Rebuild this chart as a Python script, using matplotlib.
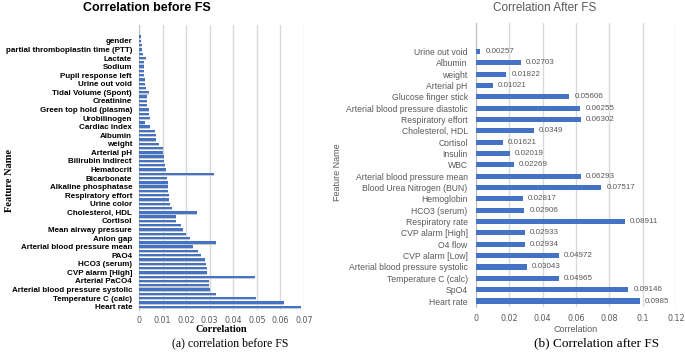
import numpy as np
import matplotlib.pyplot as plt

W, H = 685, 352

# (a) before feature selection: 64 bars, bottom -> top, every other one labelled
before_names = ["Heart rate", "Temperature C (calc)", "Arterial blood pressure systolic",
                "Arterial PaCO4", "CVP alarm [High]", "HCO3 (serum)", "PAO4",
                "Arterial blood pressure mean", "Anion gap", "Mean airway pressure",
                "Cortisol", "Cholesterol, HDL", "Urine color", "Respiratory effort",
                "Alkaline phosphatase", "Bicarbonate", "Hematocrit", "Bilirubin Indirect",
                "Arterial pH", "weight", "Albumin", "Cardiac index", "Urobilinogen",
                "Green top hold (plasma)", "Creatinine", "Tidal Volume (Spont)",
                "Urine out void", "Pupil response left", "Sodium", "Lactate",
                "partial thromboplastin time (PTT)", "gender"]
before_vals = [0.0686, 0.0615, 0.0497, 0.0328, 0.0303, 0.0297, 0.0295, 0.0491,
               0.0290, 0.0288, 0.0286, 0.0280, 0.0264, 0.0250, 0.0229, 0.0327,
               0.0217, 0.0199, 0.0185, 0.0178, 0.0158, 0.0158, 0.0246, 0.0139,
               0.0132, 0.0129, 0.0126, 0.0125, 0.0122, 0.0121, 0.0118, 0.0317,
               0.0116, 0.0110, 0.0108, 0.0107, 0.0101, 0.0100, 0.0084, 0.0074,
               0.0072, 0.0068, 0.0046, 0.0025, 0.0045, 0.0044, 0.0041, 0.0035,
               0.0035, 0.0035, 0.0042, 0.0028, 0.0027, 0.0025, 0.0023, 0.0023,
               0.0023, 0.0021, 0.0031, 0.0018, 0.0011, 0.0011, 0.0010, 0.0007]
before_ticks = [0, 0.01, 0.02, 0.03, 0.04, 0.05, 0.06, 0.07]

# (b) after feature selection, top -> bottom as in the chart
after_names = ["Urine out void", "Albumin", "weight", "Arterial pH", "Glucose finger stick",
               "Arterial blood pressure diastolic", "Respiratory effort", "Cholesterol, HDL",
               "Cortisol", "Insulin", "WBC", "Arterial blood pressure mean",
               "Blood Urea Nitrogen (BUN)", "Hemoglobin", "HCO3 (serum)", "Respiratory rate",
               "CVP alarm [High]", "O4 flow", "CVP alarm [Low]",
               "Arterial blood pressure systolic", "Temperature C (calc)", "SpO4", "Heart rate"]
after_vals = [0.00257, 0.02703, 0.01822, 0.01021, 0.05606, 0.06255, 0.06302, 0.0349,
              0.01621, 0.02019, 0.02269, 0.06293, 0.07517, 0.02817, 0.02906, 0.08911,
              0.02933, 0.02934, 0.04972, 0.03043, 0.04965, 0.09146, 0.0985]
after_ticks = [0, 0.02, 0.04, 0.06, 0.08, 0.1, 0.12]

blue = "#4472c4"
grey_txt = "#595959"


def box(x0, y0, x1, y1):
    return [x0 / W, 1 - y1 / H, (x1 - x0) / W, (y1 - y0) / H]


def ftext(x, y, s, **kw):
    fig.text(x / W, 1 - y / H, s, **kw)


fig = plt.figure(figsize=(W / 100, H / 100), dpi=100)

# ---- left chart
ax1 = fig.add_axes(box(139, 25, 304, 310))
pos = np.arange(len(before_vals))
ax1.barh(pos - 0.25, before_vals, height=0.55, color="#c9c9c9", zorder=2)
ax1.barh(pos, before_vals, height=0.55, color=blue, zorder=3)
ax1.set_ylim(-0.77, 65.7)
ax1.set_yticks(pos[::2])
ax1.set_yticklabels(before_names, fontsize=5.8, fontweight="bold",
                    family="Liberation Sans")
ax1.set_xlim(0, 0.07)
ax1.set_xticks(before_ticks)
ax1.set_xticklabels(["%g" % t for t in before_ticks], fontsize=5.8, color=grey_txt)
ax1.tick_params(length=0)
ax1.tick_params(axis="y", pad=5)
ax1.tick_params(axis="x", pad=4)
ax1.xaxis.grid(True, color="#d9d9d9", lw=1, zorder=0)
ax1.set_axisbelow(True)
for s in ["top", "right", "bottom"]:
    ax1.spines[s].set_visible(False)
ax1.spines["left"].set_color("#bfbfbf")

# ---- right chart
ax2 = fig.add_axes(box(476, 23, 676, 306.7))
pos2 = np.arange(len(after_vals))[::-1]
ax2.barh(pos2, after_vals, height=0.45, color=blue, zorder=3)
for p, v in zip(pos2, after_vals):
    ax2.text(v + 0.003, p, "%g" % v, va="center", ha="left", fontsize=5.8,
             color=grey_txt, family="Liberation Sans")
ax2.set_ylim(-0.5, 24.5)
ax2.set_yticks(pos2)
ax2.set_yticklabels(after_names, fontsize=6.2, color=grey_txt, family="Liberation Sans")
ax2.set_xlim(0, 0.12)
ax2.set_xticks(after_ticks)
ax2.set_xticklabels(["%g" % t for t in after_ticks], fontsize=5.8, color=grey_txt)
ax2.tick_params(length=0)
ax2.tick_params(axis="y", pad=6)
ax2.tick_params(axis="x", pad=5)
ax2.xaxis.grid(True, color="#d9d9d9", lw=1, zorder=0)
ax2.set_axisbelow(True)
for s in ["top", "right", "bottom"]:
    ax2.spines[s].set_visible(False)
ax2.spines["left"].set_color("#bfbfbf")

# ---- titles, axis titles, captions
ftext(83, 8, "Correlation before FS", ha="left", va="center", fontsize=9,
      fontweight="bold", family="Liberation Sans")
ftext(221, 329, "Correlation", ha="center", va="center", fontsize=7.5,
      fontweight="bold", family="Liberation Serif")
ftext(10, 180, "Feature Name", ha="center", va="center", rotation=90, fontsize=7.5,
      fontweight="bold", family="Liberation Serif")
ftext(230, 343, "(a) correlation before FS", ha="center", va="center", fontsize=8.5,
      family="Liberation Serif")

ftext(545, 8, "Correlation After FS", ha="center", va="center", fontsize=8.5,
      color=grey_txt, family="Liberation Sans")
ftext(576, 329, "Correlation", ha="center", va="center", fontsize=6.5,
      color=grey_txt, family="Liberation Sans")
ftext(337, 172, "Feature Name", ha="center", va="center", rotation=90, fontsize=6.5,
      color=grey_txt, family="Liberation Sans")
ftext(597, 343, "(b) Correlation after FS", ha="center", va="center", fontsize=9.5,
      family="Liberation Serif")

fig.savefig("out.png", dpi=100)
